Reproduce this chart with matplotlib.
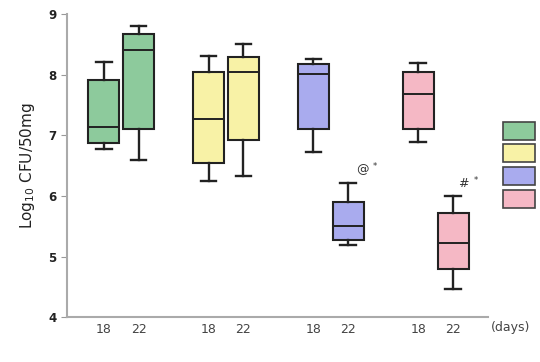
import matplotlib
matplotlib.use("Agg")
import matplotlib.pyplot as plt
from matplotlib.patches import Rectangle

# box statistics (log10 CFU/50mg)
days = ["18", "22"]
positions = [1, 2, 4, 5, 7, 8, 10, 11]
whislo = [6.77, 6.60, 6.24, 6.33, 6.73, 5.19, 6.89, 4.47]
q1 = [6.88, 7.11, 6.55, 6.92, 7.11, 5.28, 7.10, 4.79]
med = [7.13, 8.41, 7.27, 8.04, 8.01, 5.50, 7.69, 5.23]
q3 = [7.91, 8.68, 8.04, 8.29, 8.18, 5.90, 8.05, 5.72]
whishi = [8.21, 8.81, 8.31, 8.51, 8.26, 6.22, 8.19, 6.00]
group_colors = ["#8dca9c", "#f8f2a6", "#a9abee", "#f5b8c5"]

# significance marks: (x position, y value, text)
marks = [(8.4, 6.43, "@"), (11.3, 6.20, "#")]

fig = plt.figure(figsize=(5.4, 3.62), dpi=100)
ax = fig.add_axes([0.124, 0.124, 0.780, 0.837])

stats = []
for i in range(len(positions)):
    stats.append(dict(whislo=whislo[i], q1=q1[i], med=med[i], q3=q3[i],
                      whishi=whishi[i], fliers=[]))
bp = ax.bxp(stats, positions=positions, widths=0.88, patch_artist=True,
            showfliers=False,
            boxprops=dict(linewidth=1.5, edgecolor="#222222"),
            medianprops=dict(color="#222222", linewidth=1.4),
            whiskerprops=dict(color="#222222", linewidth=1.7),
            capprops=dict(color="#222222", linewidth=1.7),
            capwidths=0.45)
for i, box in enumerate(bp["boxes"]):
    box.set_facecolor(group_colors[i // 2])

for x, y, s in marks:
    ax.text(x, y, s, fontsize=9, ha="center", va="center", color="#333333")
    ax.text(x + 0.36, y + 0.05, "*", fontsize=6, ha="center", va="center",
            color="#333333")

ax.set_xlim(-0.05, 12)
ax.set_ylim(4, 9)
ax.set_yticks([4, 5, 6, 7, 8, 9])
ax.set_xticks(positions)
ax.set_xticklabels(days * 4)
for lab in ax.get_yticklabels():
    lab.set_fontweight("bold")
ax.tick_params(axis="y", labelsize=8.5, colors="#999999", labelcolor="#222222",
               length=4, width=0.8)
ax.tick_params(axis="x", labelsize=9, length=0, pad=4, labelcolor="#444444")
for side in ["top", "right"]:
    ax.spines[side].set_visible(False)
for side in ["left", "bottom"]:
    ax.spines[side].set_color("#aaaaaa")
    ax.spines[side].set_linewidth(1.5)
ax.set_ylabel("Log$_{10}$ CFU/50mg", fontsize=11, color="#222222", labelpad=8)

fig.text(0.945, 0.095, "(days)", fontsize=9, ha="center", va="center",
         color="#444444")

# colour key at the right edge
for i, c in enumerate(group_colors):
    y0 = 1 - (140 + 22.5 * i) / 362
    fig.patches.append(Rectangle((503 / 540, y0), 32 / 540, 18 / 362,
                                 transform=fig.transFigure, facecolor=c,
                                 edgecolor="#444444", linewidth=1.2))

fig.savefig("out.png", dpi=100)
